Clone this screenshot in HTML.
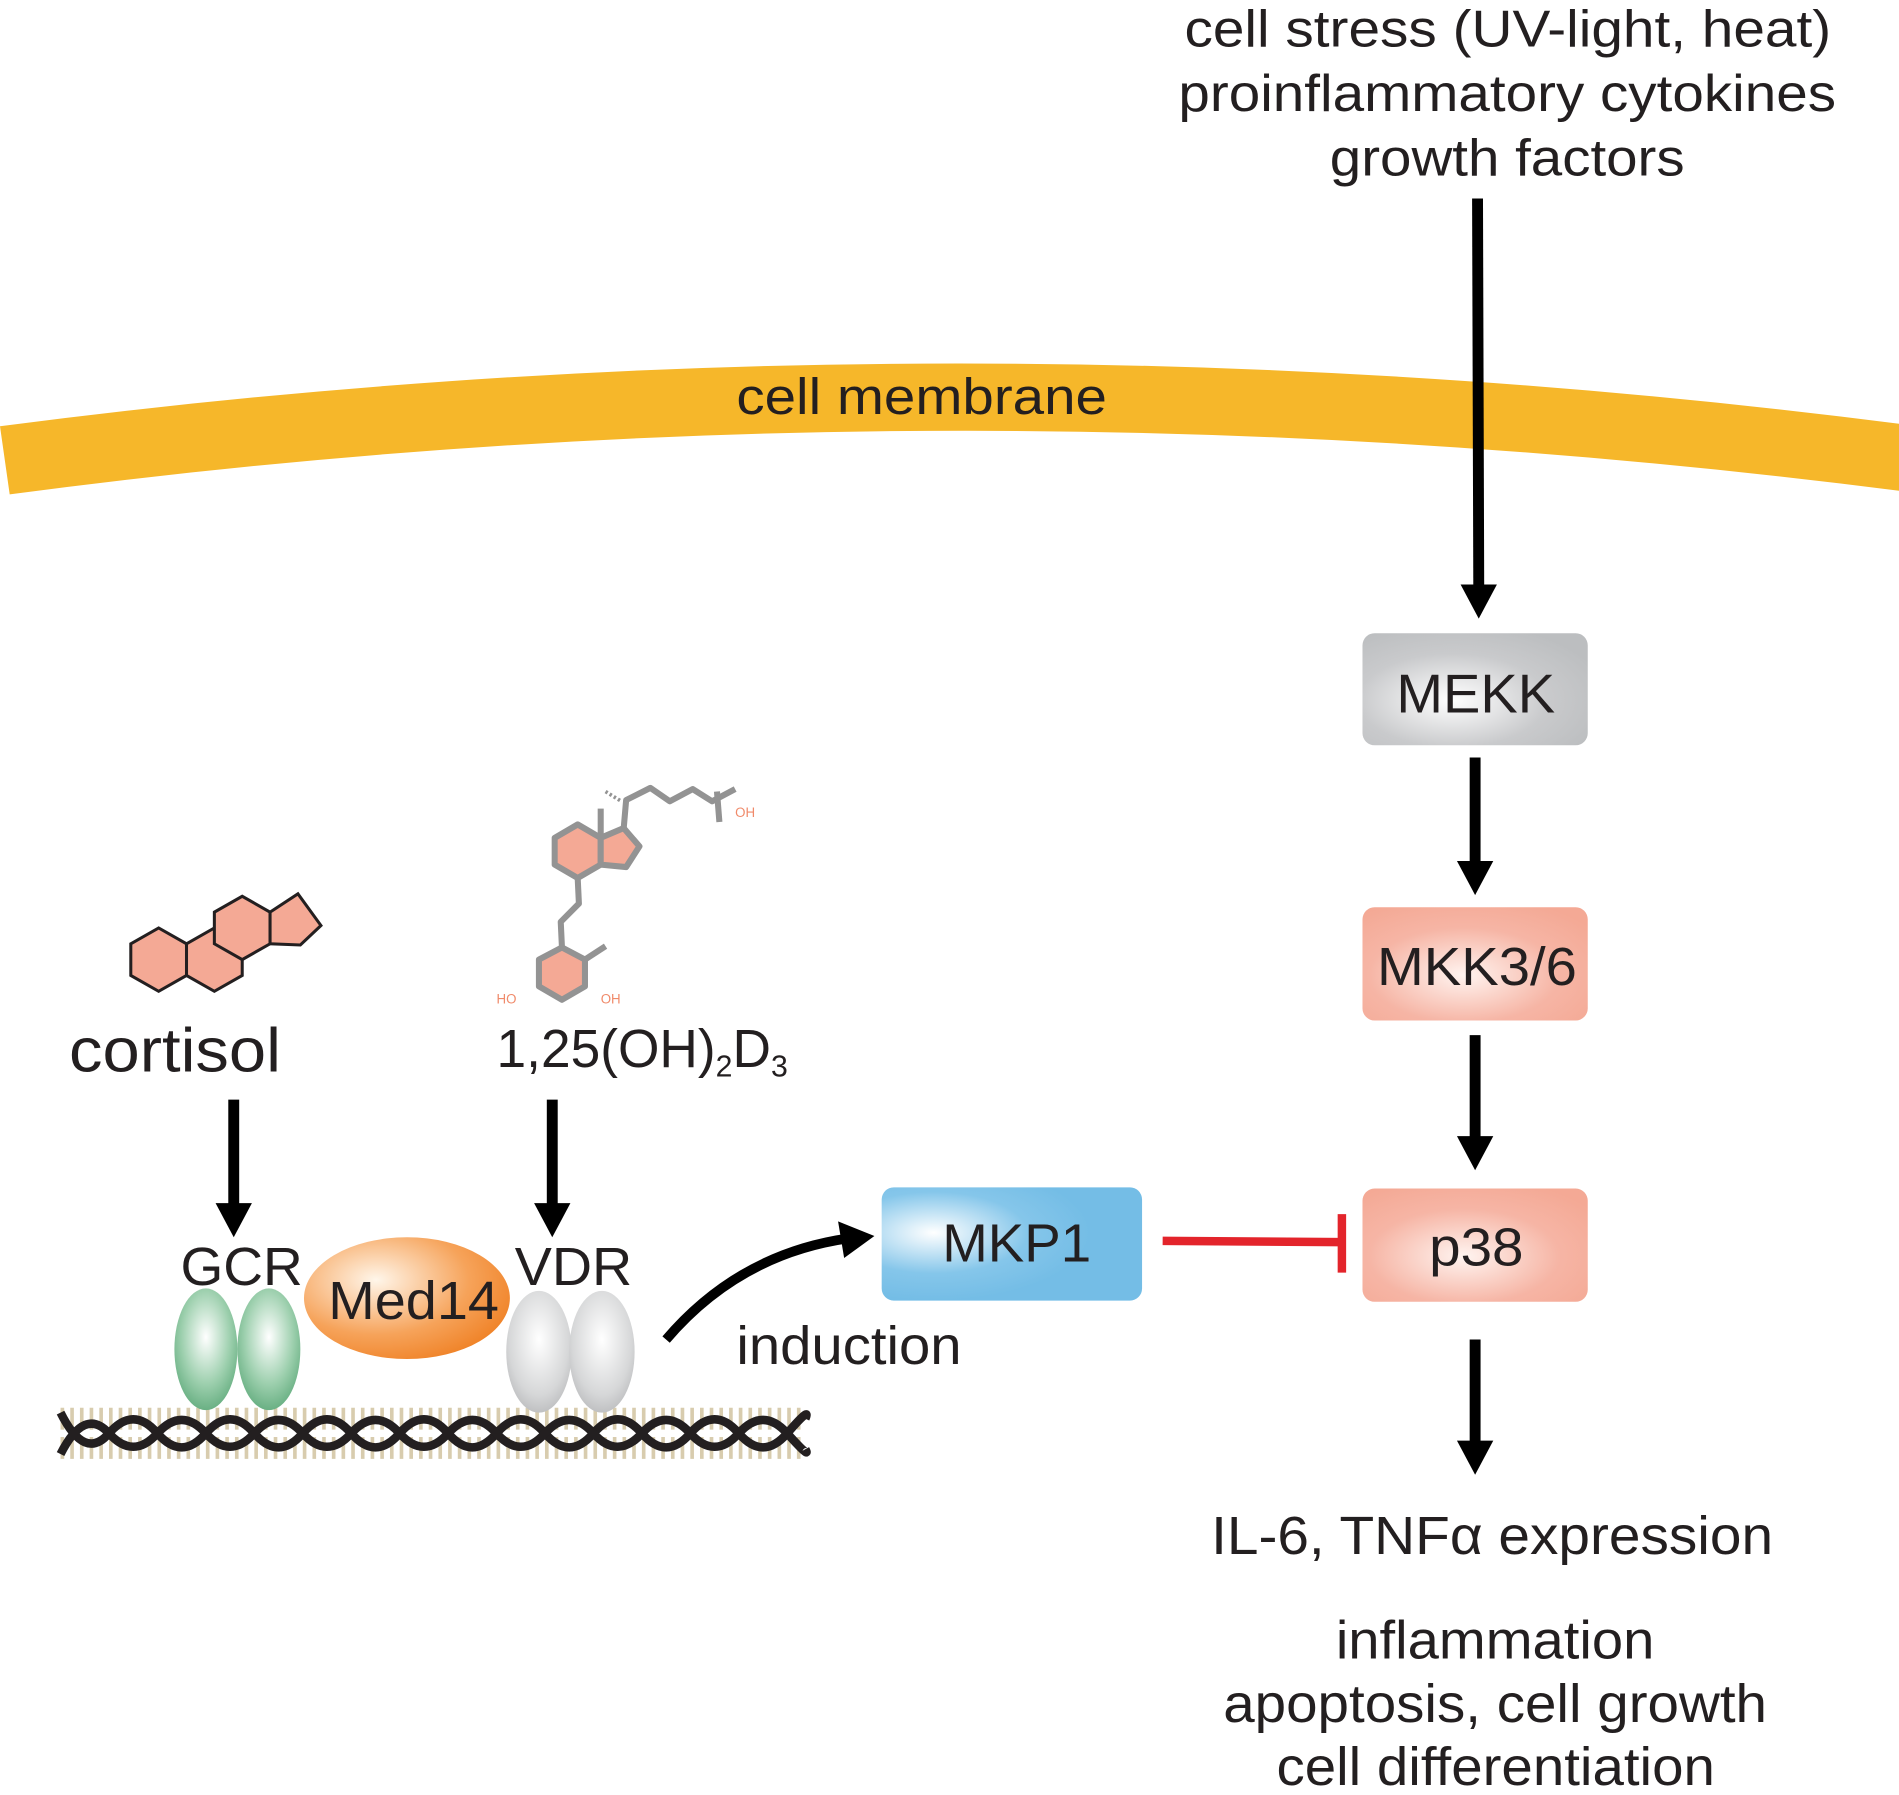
<!DOCTYPE html>
<html><head><style>
html,body{margin:0;padding:0;background:#fff;}
svg{display:block;}
text{font-family:"Liberation Sans",sans-serif;fill:#231f20;}
</style></head><body>
<svg width="1899" height="1795" viewBox="0 0 1568 1474" preserveAspectRatio="none" xmlns="http://www.w3.org/2000/svg">
<defs>
<radialGradient id="gGray" cx="0.4" cy="0.6" r="0.7"><stop offset="0" stop-color="#ffffff"/><stop offset="0.6" stop-color="#c9cacc"/><stop offset="1" stop-color="#bcbec0"/></radialGradient>
<radialGradient id="gSal" cx="0.45" cy="0.6" r="0.7"><stop offset="0" stop-color="#fff4f0"/><stop offset="0.6" stop-color="#f6b5a5"/><stop offset="1" stop-color="#f4a995"/></radialGradient>
<radialGradient id="gBlue" cx="0.2" cy="0.4" r="0.6"><stop offset="0" stop-color="#ffffff"/><stop offset="0.6" stop-color="#85c6ea"/><stop offset="1" stop-color="#74bde6"/></radialGradient>
<radialGradient id="gOr" cx="0.35" cy="0.35" r="0.75"><stop offset="0" stop-color="#fff6ea"/><stop offset="0.6" stop-color="#f6a35a"/><stop offset="1" stop-color="#ef7f22"/></radialGradient>
<radialGradient id="gGreen" cx="0.5" cy="0.4" r="0.65"><stop offset="0" stop-color="#ffffff"/><stop offset="0.6" stop-color="#9ccfad"/><stop offset="1" stop-color="#5ea97a"/></radialGradient>
<radialGradient id="gEl" cx="0.5" cy="0.4" r="0.65"><stop offset="0" stop-color="#ffffff"/><stop offset="0.7" stop-color="#d6d7d8"/><stop offset="1" stop-color="#b8b9bb"/></radialGradient>
</defs>

<!-- top text -->
<g font-size="43">
<text x="978" y="38" textLength="534" lengthAdjust="spacingAndGlyphs">cell stress (UV-light, heat)</text>
<text x="973" y="91" textLength="543" lengthAdjust="spacingAndGlyphs">proinflammatory cytokines</text>
<text x="1098" y="144" textLength="293" lengthAdjust="spacingAndGlyphs">growth factors</text>
</g>

<!-- membrane -->
<path d="M0,350 Q784,248 1568,348 L1568,403 Q784,303 8,406 Z" fill="#f6b72a"/>
<text x="608" y="340" font-size="42" textLength="306" lengthAdjust="spacingAndGlyphs">cell membrane</text>

<!-- long arrow -->
<line x1="1220" y1="163" x2="1221" y2="482" stroke="#000" stroke-width="9"/>
<polygon points="1206,480 1236,480 1221,508" fill="#000"/>

<!-- boxes -->
<rect x="1125" y="520" width="186" height="92" rx="10" fill="url(#gGray)"/>
<text x="1153" y="585" font-size="45" textLength="131" lengthAdjust="spacingAndGlyphs">MEKK</text>
<line x1="1218" y1="622" x2="1218" y2="710" stroke="#000" stroke-width="9"/>
<polygon points="1203,707 1233,707 1218,735" fill="#000"/>

<rect x="1125" y="745" width="186" height="93" rx="10" fill="url(#gSal)"/>
<text x="1137" y="809" font-size="44" textLength="165" lengthAdjust="spacingAndGlyphs">MKK3/6</text>
<line x1="1218" y1="850" x2="1218" y2="936" stroke="#000" stroke-width="9"/>
<polygon points="1203,933 1233,933 1218,961" fill="#000"/>

<rect x="1125" y="976" width="186" height="93" rx="10" fill="url(#gSal)"/>
<text x="1180" y="1039" font-size="44" textLength="78" lengthAdjust="spacingAndGlyphs">p38</text>
<line x1="1218" y1="1100" x2="1218" y2="1186" stroke="#000" stroke-width="9"/>
<polygon points="1203,1183 1233,1183 1218,1211" fill="#000"/>

<rect x="728" y="975" width="215" height="93" rx="10" fill="url(#gBlue)"/>
<text x="778" y="1036" font-size="44" textLength="123" lengthAdjust="spacingAndGlyphs">MKP1</text>

<!-- inhibition -->
<line x1="960" y1="1019" x2="1108" y2="1020" stroke="#e3242b" stroke-width="7"/>
<line x1="1108" y1="997" x2="1108" y2="1045" stroke="#e3242b" stroke-width="7"/>

<!-- bottom text -->
<g font-size="44">
<text x="1000" y="1276" textLength="464" lengthAdjust="spacingAndGlyphs">IL-6, TNFα expression</text>
<text x="1103" y="1362" textLength="263" lengthAdjust="spacingAndGlyphs">inflammation</text>
<text x="1010" y="1414" textLength="449" lengthAdjust="spacingAndGlyphs">apoptosis, cell growth</text>
<text x="1054" y="1466" textLength="362" lengthAdjust="spacingAndGlyphs">cell differentiation</text>
</g>

<!-- cortisol molecule -->
<g fill="#f4a995" stroke="#231f20" stroke-width="2.5">
<polygon points="108,775 131,762 154,775 154,801 131,814 108,801"/>
<polygon points="154,775 177,762 200,775 200,801 177,814 154,801"/>
<polygon points="177,749 200,736 223,749 223,775 200,788 177,775"/>
<polygon points="223,749 246,734 265,760 248,776 223,775"/>
</g>
<text x="57" y="880" font-size="51" textLength="175" lengthAdjust="spacingAndGlyphs">cortisol</text>
<line x1="193" y1="903" x2="193" y2="990" stroke="#000" stroke-width="9"/>
<polygon points="178,988 208,988 193,1016" fill="#000"/>

<!-- vitamin D molecule -->
<g stroke="#939393" stroke-width="5" fill="none" stroke-linejoin="round">
<polygon points="458,688 477,677 496,688 496,710 477,721 458,710" fill="#f4a995"/>
<polygon points="496,688 515,680 528,695 517,712 496,710" fill="#f4a995"/>
<line x1="496" y1="688" x2="496" y2="664"/>
<polyline points="515,680 517,657 537,647 553,658 572,648 588,658 607,648"/>
<polyline points="592,650 594,675"/>
<polyline points="477,721 478,742 463,757 464,778"/>
<polygon points="445,788 464,778 483,788 483,810 464,821 445,810" fill="#f4a995"/>
<line x1="483" y1="788" x2="500" y2="777"/>
</g>
<line x1="500" y1="650" x2="513" y2="658" stroke="#939393" stroke-width="3" stroke-dasharray="2,2"/>
<g font-size="11">
<text x="607" y="671" style="fill:#f08a6a">OH</text>
<text x="410" y="824" style="fill:#f08a6a">HO</text>
<text x="496" y="824" style="fill:#f08a6a">OH</text>
</g>
<text x="410" y="876" font-size="44">1,25(OH)<tspan font-size="25" dy="8">2</tspan><tspan dy="-8">D</tspan><tspan font-size="25" dy="8">3</tspan></text>
<line x1="456" y1="903" x2="456" y2="990" stroke="#000" stroke-width="9"/>
<polygon points="441,988 471,988 456,1016" fill="#000"/>

<!-- DNA -->
<g>
<path d="M50,1165 L665,1165 M50,1189 L665,1189" stroke="#d8ccae" stroke-dasharray="3,5" stroke-width="18"/>
<path d="M50,1160 Q70,1200 90,1177 T130,1177 T170,1177 T210,1177 T250,1177 T290,1177 T330,1177 T370,1177 T410,1177 T450,1177 T490,1177 T530,1177 T570,1177 T610,1177 T650,1177 T665,1165" fill="none" stroke="#231f20" stroke-width="7"/>
<path d="M50,1194 Q70,1155 90,1177 T130,1177 T170,1177 T210,1177 T250,1177 T290,1177 T330,1177 T370,1177 T410,1177 T450,1177 T490,1177 T530,1177 T570,1177 T610,1177 T650,1177 T665,1190" fill="none" stroke="#231f20" stroke-width="7"/>
</g>

<!-- receptors -->
<ellipse cx="170" cy="1108" rx="26" ry="50" fill="url(#gGreen)"/>
<ellipse cx="222" cy="1108" rx="26" ry="50" fill="url(#gGreen)"/>
<text x="149" y="1055" font-size="44" textLength="101" lengthAdjust="spacingAndGlyphs">GCR</text>
<ellipse cx="336" cy="1066" rx="85" ry="50" fill="url(#gOr)"/>
<text x="271" y="1083" font-size="44" textLength="141" lengthAdjust="spacingAndGlyphs">Med14</text>
<ellipse cx="445" cy="1110" rx="27" ry="50" fill="url(#gEl)"/>
<ellipse cx="497" cy="1110" rx="27" ry="50" fill="url(#gEl)"/>
<text x="425" y="1055" font-size="44" textLength="97" lengthAdjust="spacingAndGlyphs">VDR</text>

<!-- induction arrow -->
<path d="M550,1100 Q610,1030 700,1017" fill="none" stroke="#000" stroke-width="8"/>
<polygon points="692,1003 722,1015 697,1033" fill="#000"/>
<text x="608" y="1120" font-size="44" textLength="186" lengthAdjust="spacingAndGlyphs">induction</text>
</svg>
</body></html>
